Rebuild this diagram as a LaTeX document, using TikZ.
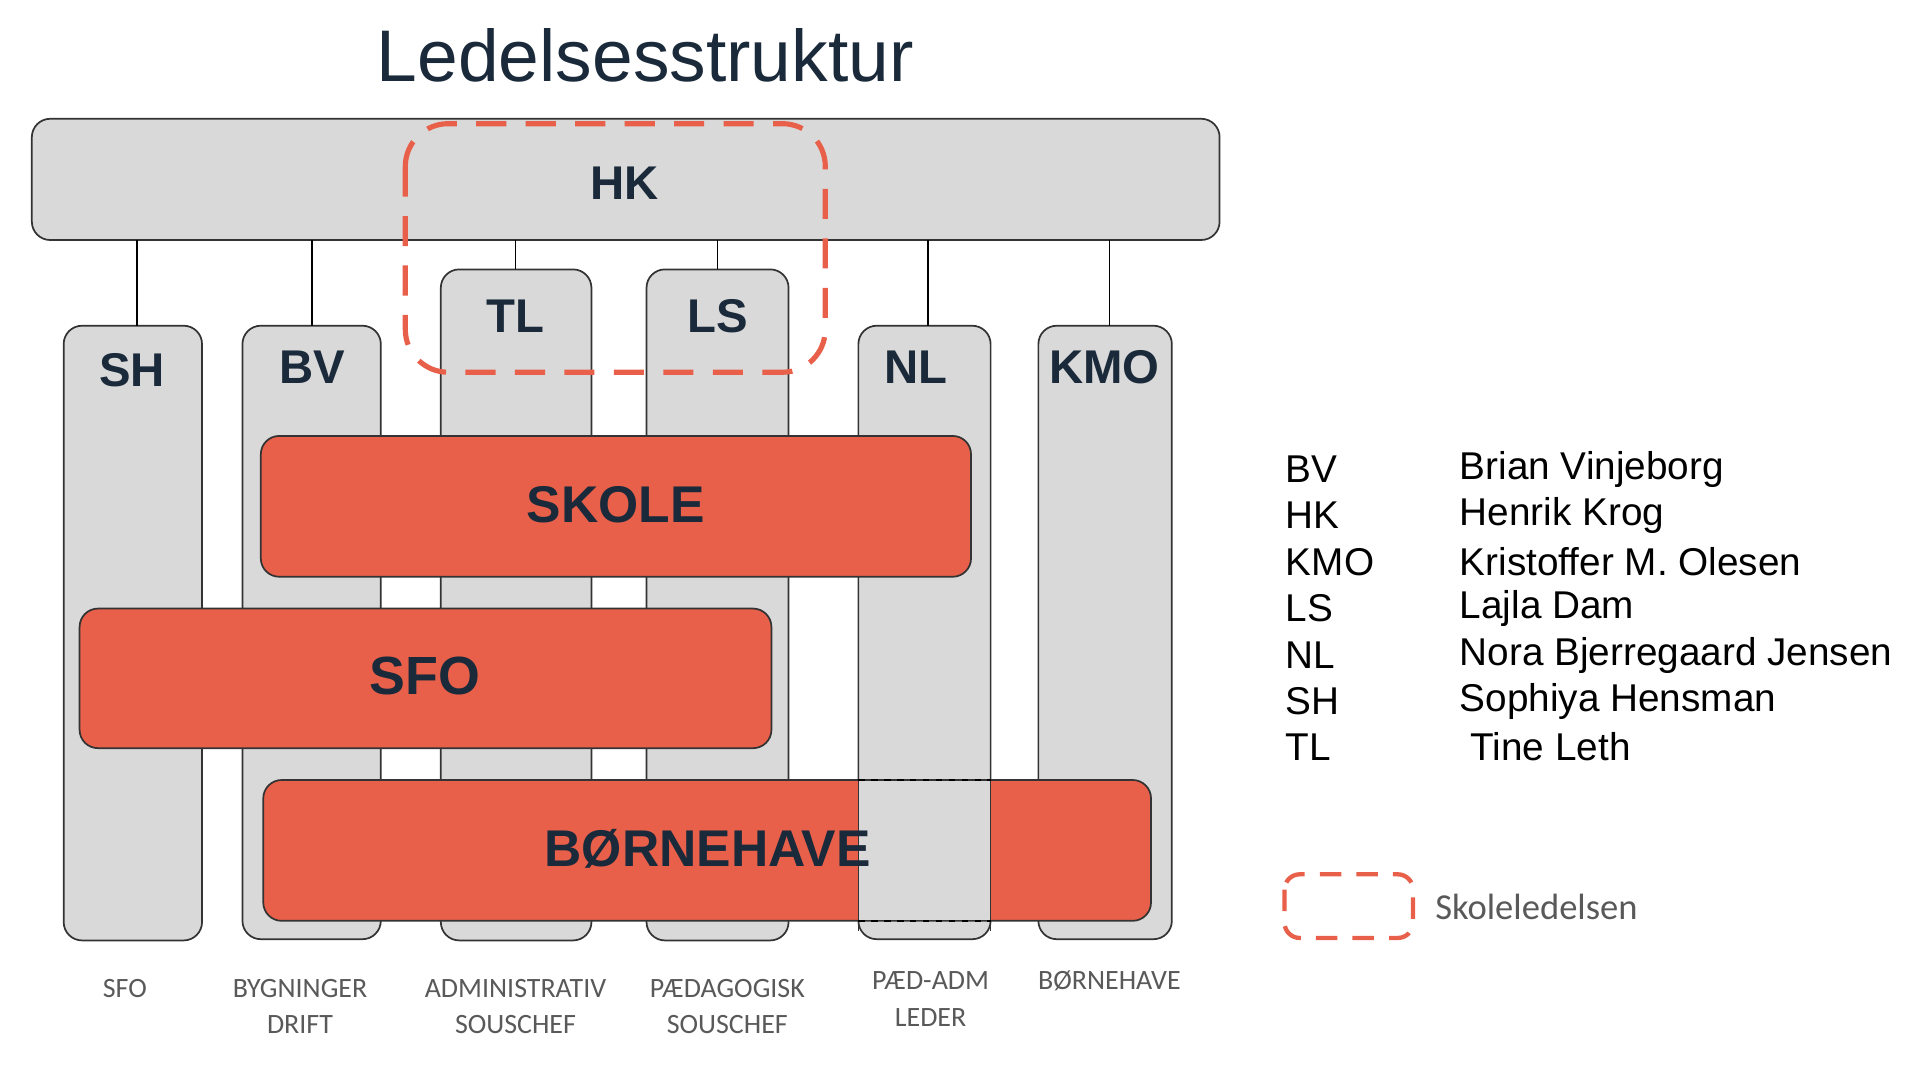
\documentclass[tikz,border=0pt]{standalone}
\usepackage{fontspec}
\setmainfont{Liberation Sans}
\newfontfamily\calib{Carlito}
\definecolor{org}{HTML}{E8604A}
\definecolor{gr}{HTML}{D9D9D9}
\definecolor{navy}{HTML}{1B2A3A}
\definecolor{lbl}{HTML}{595959}
\begin{document}
\begin{tikzpicture}[x=0.02cm,y=-0.02cm,
  col/.style={draw=black!80,fill=gr,rounded corners=0.3cm,line width=0.8pt},
  bar/.style={draw=black!80,fill=org,rounded corners=0.3cm,line width=0.8pt},
  big/.style={font=\bfseries\fontsize{22}{24}\selectfont,text=navy},
  bot/.style={font=\calib\fontsize{13}{17}\selectfont,text=lbl,align=center},
  leg/.style={font=\fontsize{18}{20}\selectfont,anchor=west}]
\useasboundingbox (0,0) rectangle (1568,873);
\node[font=\fontsize{34}{38}\selectfont,text=navy] (title) at (527,45) {Ledelsesstruktur};
% columns
\draw[col] (52,266) rectangle (165,768);
\draw[col] (198,266) rectangle (311,767);
\draw[col] (360,220) rectangle (483,768);
\draw[col] (528,220) rectangle (644,768);
\draw[col] (701,266) rectangle (809,767);
\draw[col] (848,266) rectangle (957,767);
\draw[col] (26,97) rectangle (996,196);
\node[big] (HK) at (510,150) {HK};
\node[big] (SH) at (108,302) {SH};
\node[big] (BV) at (255,300) {BV};
\node[big] (TL) at (421,258) {TL};
\node[big] (LS) at (586,258) {LS};
\node[big] (NL) at (748,300) {NL};
\node[big] (KMO) at (902,300) {KMO};
\foreach \x/\y in {112/266,255/266,421/220,586/220,758/266,906/266}
  \draw[line width=0.8pt] (\x,196) -- (\x,\y);
% bars
\draw[bar] (213,356) rectangle (793,471);
\node[big,font=\bfseries\fontsize{24}{26}\selectfont] (skole) at (503,412) {SKOLE};
\draw[bar] (65,497) rectangle (630,611);
\node[big,font=\bfseries\fontsize{25}{27}\selectfont] (sfo) at (347,552) {SFO};
\draw[bar] (215,637) rectangle (940,752);
\fill[gr] (701,637.6) rectangle (809,751.4);
\draw[line width=0.8pt,black!80] (701,630) -- (701,760) (809,630) -- (809,760);
\draw[dashed,line width=0.8pt] (701,637) -- (809,637) (701,752) -- (809,752);
\node[big,font=\bfseries\fontsize{24}{26}\selectfont] (bh) at (578,693) {BØRNEHAVE};
% dashed group
\draw[org,line width=2.4pt,dash pattern=on 14pt off 9pt,rounded corners=0.7cm] (331,101) rectangle (674,304);
% bottom labels
\node[bot] (l1) at (102,807) {SFO};
\node[bot] (l2) at (245,822) {BYGNINGER\\DRIFT};
\node[bot] (l3) at (421,822) {ADMINISTRATIV\\SOUSCHEF};
\node[bot] (l4) at (594,822) {PÆDAGOGISK\\SOUSCHEF};
\node[bot] (l5) at (760,816) {PÆD-ADM\\LEDER};
\node[bot] (l6) at (906,801) {BØRNEHAVE};
% legend
\foreach \a/\n/\y in {BV/Brian Vinjeborg/383,HK/Henrik Krog/421,KMO/Kristoffer M. Olesen/459,LS/Lajla Dam/497,NL/Nora Bjerregaard Jensen/535,SH/Sophiya Hensman/573,TL/{\ Tine Leth}/610}{
  \node[leg] at (1044,\y) {\a};
  \node[leg] at (1186,\y) {\n};}
\draw[org,line width=2pt,dash pattern=on 10pt off 7pt,rounded corners=0.25cm] (1049,714) rectangle (1154,766);
\node[font=\calib\fontsize{17}{20}\selectfont,text=lbl,anchor=west] (sk) at (1166,741) {Skoleledelsen};
\end{tikzpicture}
\end{document}
